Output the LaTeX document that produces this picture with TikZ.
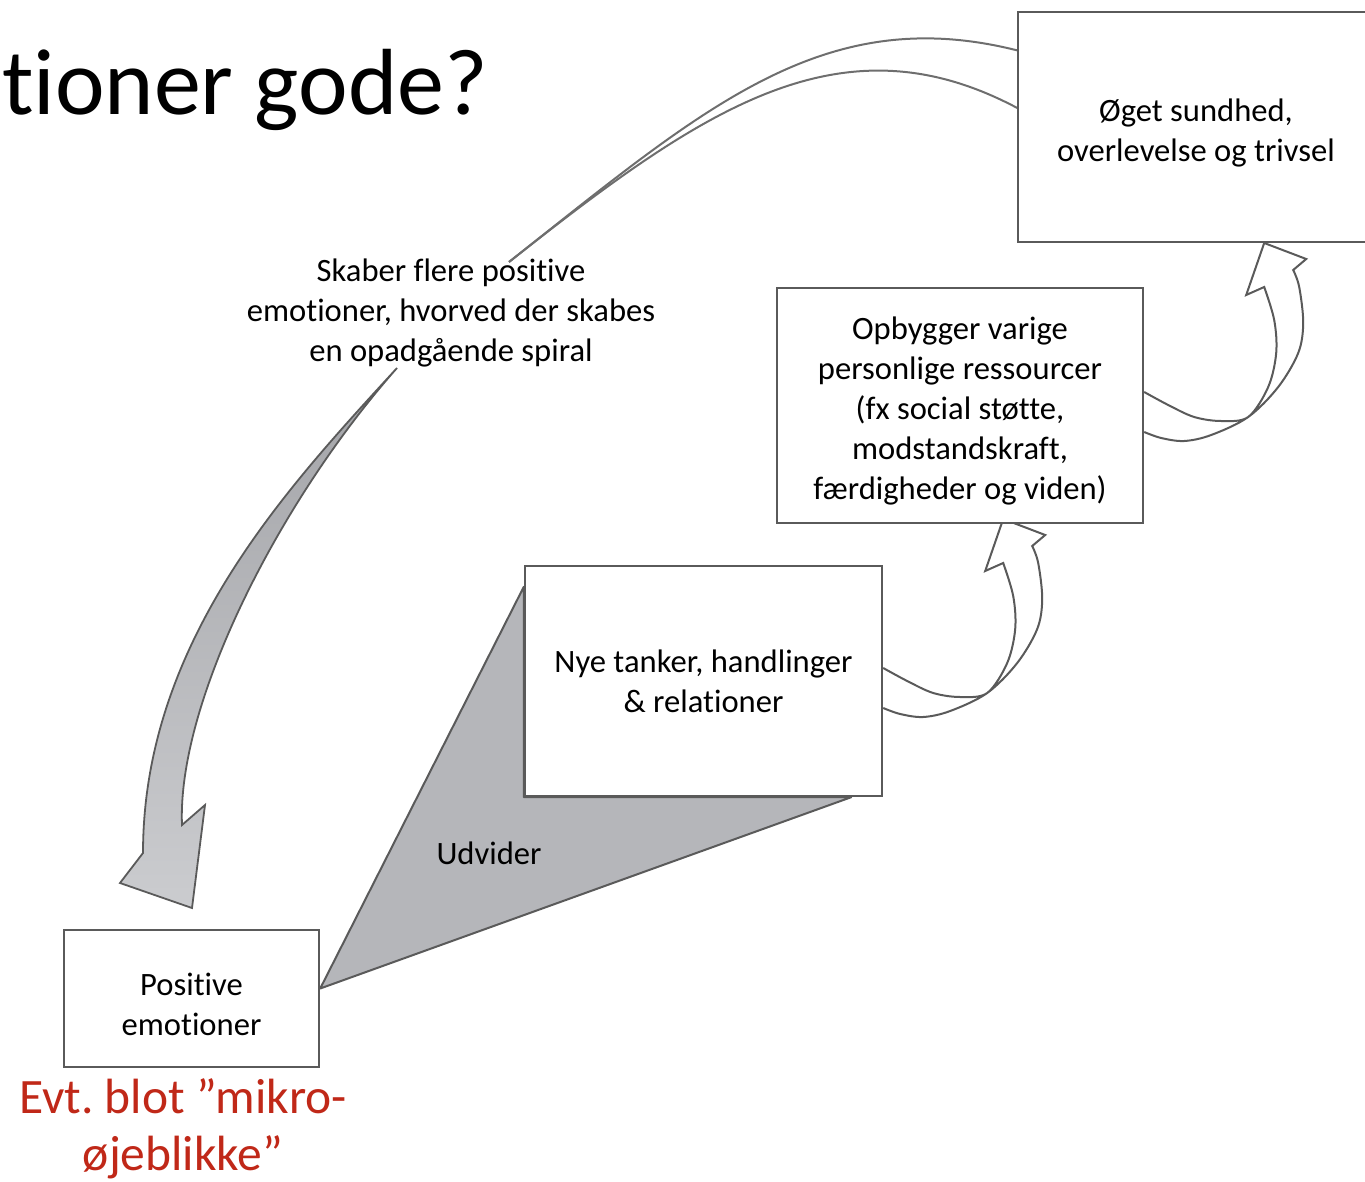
\documentclass[tikz,border=0pt]{standalone}
\usepackage{fontspec}
\setmainfont{Carlito}[Ligatures=CommonOff]
\usetikzlibrary{calc,backgrounds}
\definecolor{boxline}{HTML}{5A5A5A}
\definecolor{wedgegray}{HTML}{B5B6BA}
\definecolor{arrowtop}{HTML}{A3A4A8}
\definecolor{arrowbot}{HTML}{CBCCCF}
\definecolor{topline}{HTML}{6E6E6E}
\definecolor{redtxt}{RGB}{192,40,24}
\newcommand{\toppad}{\rule{0pt}{34pt}}
\frenchspacing
\begin{document}
\begin{tikzpicture}[x=1pt,y=-1pt,
  box/.style={draw=boxline,line width=2.4pt,fill=white,align=center,inner sep=0pt,
    font=\fontsize{32.6}{40}\selectfont},
  lbl/.style={align=center,font=\fontsize{32.6}{40}\selectfont},
  curly/.pic={
    \draw[boxline,line width=2pt,line join=miter]
      plot[smooth,tension=0.55] coordinates {(0,0) (24,13) (50,25) (77,29) (104,25) (124,-5) (132,-39) (130,-72) (120,-105)}
      -- (102,-97) -- (120,-149) -- (162,-133) -- (149,-122)
      -- plot[smooth,tension=0.55] coordinates {(149,-122) (155,-105) (159,-69) (154,-39) (134,-5) (104,25) (67,43) (40,49) (17,46) (0,40)};
  }]
\useasboundingbox (0,0) rectangle (1365,1182);

% title
\node[anchor=base east,inner sep=0pt,font=\fontsize{94}{100}\selectfont] (title) at (488,115) {tioner gode?};

% boxes
\node[box,minimum width=356pt,minimum height=230pt] (sund) at (1196,127) {\toppad Øget sundhed,\\overlevelse og trivsel};
\node[box,minimum width=366pt,minimum height=235pt] (opb) at (960,405.5) {\toppad Opbygger varige\\personlige ressourcer\\(fx social støtte,\\modstandskraft,\\færdigheder og viden)};
\node[box,minimum width=357pt,minimum height=230pt] (nye) at (703.5,681) {Nye tanker, handlinger\\\& relationer};
\node[box,minimum width=255pt,minimum height=137pt] (pos) at (191.5,998.5) {\toppad Positive\\emotioner};

% labels
\node[lbl] (skab) at (451,313) {Skaber flere positive\\emotioner, hvorved der skabes\\en opadgående spiral};
\node[lbl] (udv) at (489,853) {Udvider};
\node[align=center,inner sep=0pt,text=redtxt,font=\fontsize{49.5}{57}\selectfont] (evt) at (183,1129) {Evt. blot ”mikro-\\øjeblikke”};

\begin{pgfonlayer}{background}
  % broadening wedge
  \filldraw[fill=wedgegray,draw=boxline,line width=2pt,line join=round]
    ($(pos.east)+(0,-10)$) -- ($(nye.north west)+(0,22)$) -- (nye.south west)
    -- ($(nye.south east)+(-32,0)$) -- cycle;
  % small curled arrows
  \pic at ($(nye.east)+(0,-13)$) {curly};
  \pic at ($(opb.east)+(0,-13.5)$) {curly};
  % upper part of the big spiral arrow
  \coordinate (sp) at (509,262);
  \draw[topline,line width=2pt]
    ($(sund.north west)+(2,40)$) .. controls (824,1) and (705,107) .. (sp);
  \draw[topline,line width=2pt]
    ($(sund.north west)+(2,98)$) .. controls (842,14) and (705,107) .. (sp);
  % lower gray part of the big spiral arrow
  \path[draw=boxline,line width=1.8pt,line join=miter,top color=arrowtop,bottom color=arrowbot]
    (397,368) .. controls (290,485) and (143,640) .. (143,853)
    -- (120,883) -- (192,908) -- (205,805) -- (182,825)
    .. controls (177,702) and (280,500) .. (397,368) -- cycle;
\end{pgfonlayer}
\end{tikzpicture}
\end{document}
